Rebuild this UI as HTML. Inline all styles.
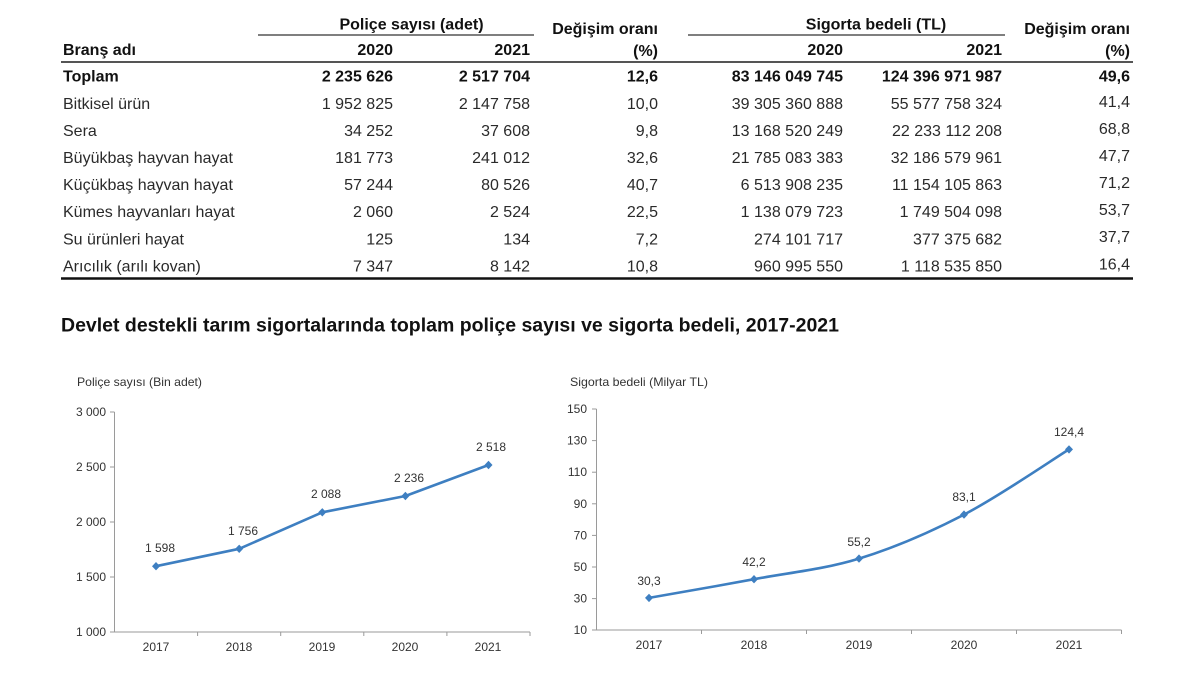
<!DOCTYPE html>
<html><head><meta charset="utf-8"><style>
html,body{margin:0;padding:0;background:#fff;}
svg{display:block;}
text{font-family:"Liberation Sans",Arial,sans-serif;}
.h{font-weight:bold;font-size:16px;fill:#111;}
.b{font-size:16px;fill:#2a2a2a;}
.bb{font-size:16px;fill:#111;font-weight:bold;}
.e{text-anchor:end;}
.m{text-anchor:middle;}
.ax{font-size:12px;fill:#333;}
</style></head><body>
<svg width="1200" height="675" viewBox="0 0 1200 675" xmlns="http://www.w3.org/2000/svg">
<rect width="1200" height="675" fill="#fff"/>
<!-- Table headers -->
<text class="h m" x="411.5" y="29.5">Poliçe sayısı (adet)</text>
<line x1="258" y1="35" x2="534" y2="35" stroke="#555" stroke-width="1.5"/>
<text class="h m" x="876" y="29.5">Sigorta bedeli (TL)</text>
<line x1="688" y1="35" x2="1005" y2="35" stroke="#555" stroke-width="1.5"/>
<text class="h e" x="658" y="34">Değişim oranı</text>
<text class="h e" x="1130" y="34">Değişim oranı</text>
<text class="h" x="63" y="55">Branş adı</text>
<text class="h e" x="393" y="55">2020</text>
<text class="h e" x="530" y="55">2021</text>
<text class="h e" x="658" y="56">(%)</text>
<text class="h e" x="843" y="55">2020</text>
<text class="h e" x="1002" y="55">2021</text>
<text class="h e" x="1130" y="56">(%)</text>
<line x1="61" y1="62" x2="1133" y2="62" stroke="#555" stroke-width="2"/>
<!-- Rows -->
<g>
<text class="bb" x="63" y="81.7">Toplam</text>
<text class="bb e" x="393" y="81.7">2 235 626</text>
<text class="bb e" x="530" y="81.7">2 517 704</text>
<text class="bb e" x="658" y="81.7">12,6</text>
<text class="bb e" x="843" y="81.7">83 146 049 745</text>
<text class="bb e" x="1002" y="81.7">124 396 971 987</text>
<text class="bb e" x="1130" y="81.7">49,6</text>
</g>
<g>
<text class="b" x="63" y="108.8">Bitkisel ürün</text>
<text class="b e" x="393" y="108.8">1 952 825</text>
<text class="b e" x="530" y="108.8">2 147 758</text>
<text class="b e" x="658" y="108.8">10,0</text>
<text class="b e" x="843" y="108.8">39 305 360 888</text>
<text class="b e" x="1002" y="108.8">55 577 758 324</text>
<text class="b e" x="1130" y="107">41,4</text>
</g>
<g>
<text class="b" x="63" y="135.9">Sera</text>
<text class="b e" x="393" y="135.9">34 252</text>
<text class="b e" x="530" y="135.9">37 608</text>
<text class="b e" x="658" y="135.9">9,8</text>
<text class="b e" x="843" y="135.9">13 168 520 249</text>
<text class="b e" x="1002" y="135.9">22 233 112 208</text>
<text class="b e" x="1130" y="134">68,8</text>
</g>
<g>
<text class="b" x="63" y="163">Büyükbaş hayvan hayat</text>
<text class="b e" x="393" y="163">181 773</text>
<text class="b e" x="530" y="163">241 012</text>
<text class="b e" x="658" y="163">32,6</text>
<text class="b e" x="843" y="163">21 785 083 383</text>
<text class="b e" x="1002" y="163">32 186 579 961</text>
<text class="b e" x="1130" y="161">47,7</text>
</g>
<g>
<text class="b" x="63" y="190.1">Küçükbaş hayvan hayat</text>
<text class="b e" x="393" y="190.1">57 244</text>
<text class="b e" x="530" y="190.1">80 526</text>
<text class="b e" x="658" y="190.1">40,7</text>
<text class="b e" x="843" y="190.1">6 513 908 235</text>
<text class="b e" x="1002" y="190.1">11 154 105 863</text>
<text class="b e" x="1130" y="188">71,2</text>
</g>
<g>
<text class="b" x="63" y="217.2">Kümes hayvanları hayat</text>
<text class="b e" x="393" y="217.2">2 060</text>
<text class="b e" x="530" y="217.2">2 524</text>
<text class="b e" x="658" y="217.2">22,5</text>
<text class="b e" x="843" y="217.2">1 138 079 723</text>
<text class="b e" x="1002" y="217.2">1 749 504 098</text>
<text class="b e" x="1130" y="215">53,7</text>
</g>
<g>
<text class="b" x="63" y="244.3">Su ürünleri hayat</text>
<text class="b e" x="393" y="244.3">125</text>
<text class="b e" x="530" y="244.3">134</text>
<text class="b e" x="658" y="244.3">7,2</text>
<text class="b e" x="843" y="244.3">274 101 717</text>
<text class="b e" x="1002" y="244.3">377 375 682</text>
<text class="b e" x="1130" y="242">37,7</text>
</g>
<g>
<text class="b" x="63" y="271.4">Arıcılık (arılı kovan)</text>
<text class="b e" x="393" y="271.4">7 347</text>
<text class="b e" x="530" y="271.4">8 142</text>
<text class="b e" x="658" y="271.4">10,8</text>
<text class="b e" x="843" y="271.4">960 995 550</text>
<text class="b e" x="1002" y="271.4">1 118 535 850</text>
<text class="b e" x="1130" y="269.5">16,4</text>
</g>
<line x1="61" y1="278.5" x2="1133" y2="278.5" stroke="#111" stroke-width="2.5"/>

<!-- Title -->
<text x="61" y="331.5" style="font-weight:bold;font-size:19.5px;fill:#111" textLength="778" lengthAdjust="spacingAndGlyphs">Devlet destekli tarım sigortalarında toplam poliçe sayısı ve sigorta bedeli, 2017-2021</text>

<!-- Left chart -->
<text class="ax" x="77" y="386" textLength="125" lengthAdjust="spacingAndGlyphs">Poliçe sayısı (Bin adet)</text>
<g stroke="#9a9a9a" stroke-width="1" fill="none">
<line x1="114.5" y1="412" x2="114.5" y2="632"/>
<line x1="114.5" y1="632" x2="530" y2="632"/>
<line x1="110" y1="412" x2="114.5" y2="412"/>
<line x1="110" y1="467" x2="114.5" y2="467"/>
<line x1="110" y1="522" x2="114.5" y2="522"/>
<line x1="110" y1="577" x2="114.5" y2="577"/>
<line x1="110" y1="632" x2="114.5" y2="632"/>
<line x1="197.6" y1="632" x2="197.6" y2="636"/>
<line x1="280.7" y1="632" x2="280.7" y2="636"/>
<line x1="363.8" y1="632" x2="363.8" y2="636"/>
<line x1="446.9" y1="632" x2="446.9" y2="636"/>
<line x1="530" y1="632" x2="530" y2="636"/>
</g>
<g class="ax">
<text class="ax e" x="106" y="416">3 000</text>
<text class="ax e" x="106" y="471">2 500</text>
<text class="ax e" x="106" y="526">2 000</text>
<text class="ax e" x="106" y="581">1 500</text>
<text class="ax e" x="106" y="636">1 000</text>
<text class="ax m" x="156" y="651">2017</text>
<text class="ax m" x="239" y="651">2018</text>
<text class="ax m" x="322" y="651">2019</text>
<text class="ax m" x="405" y="651">2020</text>
<text class="ax m" x="488" y="651">2021</text>
</g>
<polyline points="156,566.2 239.2,548.8 322.3,512.3 405.4,496 488.5,465" fill="none" stroke="#3e7fc1" stroke-width="2.6" stroke-linejoin="round"/>
<g fill="#3e7fc1">
<path d="M156 562 L160 566.2 L156 570.4 L152 566.2Z"/>
<path d="M239.2 544.6 L243.2 548.8 L239.2 553 L235.2 548.8Z"/>
<path d="M322.3 508.1 L326.3 512.3 L322.3 516.5 L318.3 512.3Z"/>
<path d="M405.4 491.8 L409.4 496 L405.4 500.2 L401.4 496Z"/>
<path d="M488.5 460.8 L492.5 465 L488.5 469.2 L484.5 465Z"/>
</g>
<g>
<text class="ax m" x="160" y="552">1 598</text>
<text class="ax m" x="243" y="535">1 756</text>
<text class="ax m" x="326" y="498">2 088</text>
<text class="ax m" x="409" y="482">2 236</text>
<text class="ax m" x="491" y="451">2 518</text>
</g>

<!-- Right chart -->
<text class="ax" x="570" y="386" textLength="138" lengthAdjust="spacingAndGlyphs">Sigorta bedeli (Milyar TL)</text>
<g stroke="#9a9a9a" stroke-width="1" fill="none">
<line x1="596.5" y1="409" x2="596.5" y2="630"/>
<line x1="596.5" y1="630" x2="1121.5" y2="630"/>
<line x1="592" y1="409" x2="596.5" y2="409"/>
<line x1="592" y1="440.6" x2="596.5" y2="440.6"/>
<line x1="592" y1="472.2" x2="596.5" y2="472.2"/>
<line x1="592" y1="503.8" x2="596.5" y2="503.8"/>
<line x1="592" y1="535.4" x2="596.5" y2="535.4"/>
<line x1="592" y1="567" x2="596.5" y2="567"/>
<line x1="592" y1="598.6" x2="596.5" y2="598.6"/>
<line x1="592" y1="630" x2="596.5" y2="630"/>
<line x1="701.5" y1="630" x2="701.5" y2="634"/>
<line x1="806.5" y1="630" x2="806.5" y2="634"/>
<line x1="911.5" y1="630" x2="911.5" y2="634"/>
<line x1="1016.5" y1="630" x2="1016.5" y2="634"/>
<line x1="1121.5" y1="630" x2="1121.5" y2="634"/>
</g>
<g>
<text class="ax e" x="587" y="413">150</text>
<text class="ax e" x="587" y="444.6">130</text>
<text class="ax e" x="587" y="476.2">110</text>
<text class="ax e" x="587" y="507.8">90</text>
<text class="ax e" x="587" y="539.4">70</text>
<text class="ax e" x="587" y="571">50</text>
<text class="ax e" x="587" y="602.6">30</text>
<text class="ax e" x="587" y="634">10</text>
<text class="ax m" x="649" y="649">2017</text>
<text class="ax m" x="754" y="649">2018</text>
<text class="ax m" x="859" y="649">2019</text>
<text class="ax m" x="964" y="649">2020</text>
<text class="ax m" x="1069" y="649">2021</text>
</g>
<path d="M649 597.9 C666.5 594.8 719 585.75 754 579.2 C789 572.65 824 569.37 859 558.6 C894 547.83 929 532.8 964 514.6 C999 496.4 1051.5 460.27 1069 449.4" fill="none" stroke="#3e7fc1" stroke-width="2.6" stroke-linejoin="round"/>
<g fill="#3e7fc1">
<path d="M649 593.7 L653 597.9 L649 602.1 L645 597.9Z"/>
<path d="M754 575 L758 579.2 L754 583.4 L750 579.2Z"/>
<path d="M859 554.4 L863 558.6 L859 562.8 L855 558.6Z"/>
<path d="M964 510.4 L968 514.6 L964 518.8 L960 514.6Z"/>
<path d="M1069 445.2 L1073 449.4 L1069 453.6 L1065 449.4Z"/>
</g>
<g>
<text class="ax m" x="649" y="585">30,3</text>
<text class="ax m" x="754" y="566">42,2</text>
<text class="ax m" x="859" y="546">55,2</text>
<text class="ax m" x="964" y="501">83,1</text>
<text class="ax m" x="1069" y="436">124,4</text>
</g>
</svg>
</body></html>
